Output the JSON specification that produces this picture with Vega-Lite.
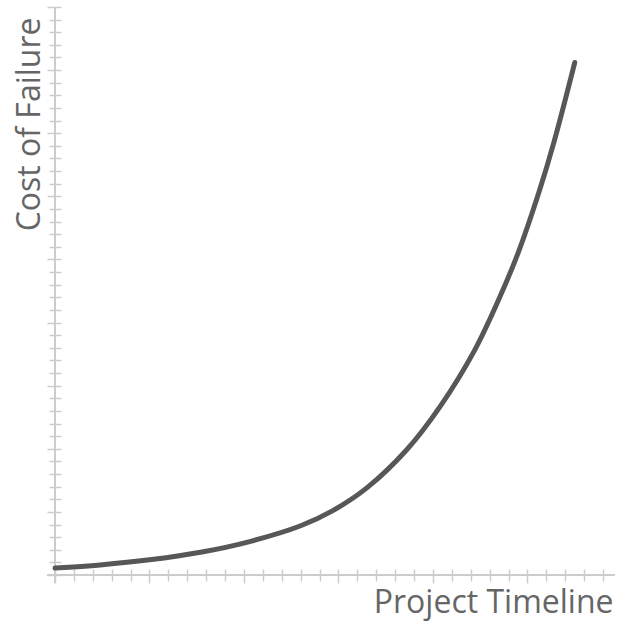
{
  "$schema": "https://vega.github.io/schema/vega-lite/v6.json",
  "width": 568,
  "height": 576,
  "autosize": "none",
  "padding": {"left": 47, "top": 7, "right": 3, "bottom": 40},
  "config": {"view": {"stroke": null}},
  "layer": [
    {
      "data": {"values": [{}]},
      "mark": {"type": "rule", "color": "#cccccc", "strokeWidth": 2},
      "encoding": {"y": {"datum": 0, "type": "quantitative"}}
    },
    {
      "data": {"values": [{}]},
      "mark": {"type": "rule", "color": "#cccccc", "strokeWidth": 2},
      "encoding": {"x": {"datum": 0, "type": "quantitative"}}
    },
    {
      "data": {
        "values": [
          {"t": 0, "cost": 0.55},
          {"t": 2.4, "cost": 0.8},
          {"t": 5.0, "cost": 1.2},
          {"t": 7.7, "cost": 1.8},
          {"t": 10.3, "cost": 2.65},
          {"t": 13.0, "cost": 3.9},
          {"t": 14.7, "cost": 5.1},
          {"t": 16.5, "cost": 6.9},
          {"t": 18.6, "cost": 9.9},
          {"t": 20.4, "cost": 13.4},
          {"t": 22.2, "cost": 17.8},
          {"t": 23.5, "cost": 21.9},
          {"t": 24.5, "cost": 25.5},
          {"t": 25.6, "cost": 30.3},
          {"t": 26.4, "cost": 34.3},
          {"t": 27.5, "cost": 40.6}
        ]
      },
      "mark": {"type": "line", "color": "#575757", "strokeWidth": 5, "strokeCap": "round", "interpolate": "catmull-rom"},
      "encoding": {
        "x": {
          "field": "t",
          "type": "quantitative",
          "scale": {"domain": [-0.423, 29.63], "nice": false, "zero": false},
          "axis": {
            "title": "Project Timeline",
            "values": [0,1,2,3,4,5,6,7,8,9,10,11,12,13,14,15,16,17,18,19,20,21,22,23,24,25,26,27,28,29],
            "tickCount": 40,
            "labels": false,
            "domain": false,
            "grid": false,
            "offset": -14,
            "tickColor": "#cccccc",
            "tickWidth": 1.5,
            "tickSize": {"condition": {"test": "datum.value % 5 === 0", "value": 14}, "value": 12},
            "titleFont": "Open Sans",
            "titleFontSize": 32,
            "titleFontWeight": "normal",
            "titleColor": "#666666",
            "titleAnchor": "end",
            "titleAlign": "right",
            "titleBaseline": "alphabetic",
            "titleX": 566,
            "titleY": 43
          }
        },
        "y": {
          "field": "cost",
          "type": "quantitative",
          "scale": {"domain": [-0.634, 45], "nice": false, "zero": false},
          "axis": {
            "title": "Cost of Failure",
            "values": [0,1,2,3,4,5,6,7,8,9,10,11,12,13,14,15,16,17,18,19,20,21,22,23,24,25,26,27,28,29,30,31,32,33,34,35,36,37,38,39,40,41,42,43,44,45],
            "tickCount": 60,
            "labels": false,
            "domain": false,
            "grid": false,
            "offset": -14,
            "tickColor": "#cccccc",
            "tickWidth": 1.5,
            "tickSize": {"condition": {"test": "datum.value % 5 === 0", "value": 14}, "value": 12},
            "titleFont": "Open Sans",
            "titleFontSize": 32,
            "titleFontWeight": "normal",
            "titleColor": "#666666",
            "titleAnchor": "end",
            "titleAlign": "right",
            "titleAngle": -90,
            "titleBaseline": "alphabetic",
            "titleX": -22,
            "titleY": 10
          }
        }
      }
    }
  ]
}
